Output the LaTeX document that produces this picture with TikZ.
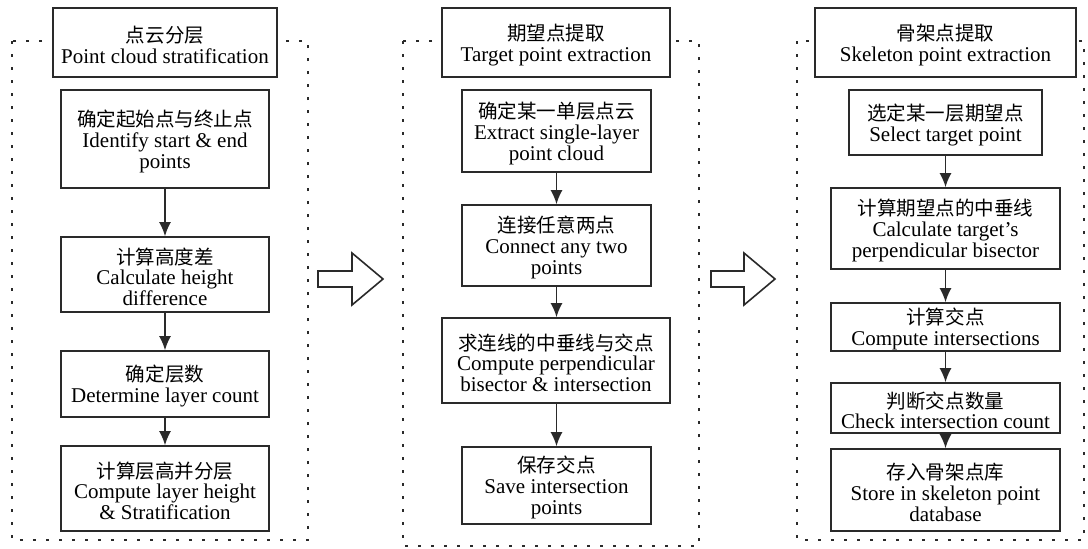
\documentclass[tikz,border=0pt]{standalone}
\usepackage{fontspec}
\setmainfont{Liberation Serif}
\newfontfamily\cjkfam{Noto Sans CJK SC}[Scale=0.93]
\newcommand\zh[1]{\rule{0pt}{21pt}{\cjkfam #1}}
\usetikzlibrary{arrows.meta}
\definecolor{ink}{HTML}{2A2A2A}
\tikzset{
  box/.style={draw=ink, line width=1.8pt, fill=white, align=center, inner sep=0pt,
    font=\fontsize{21}{20.8}\selectfont, text=black},
  conn/.style={draw=ink, line width=1.4pt, -{Latex[length=14pt,width=12pt]}},
  frame/.style={draw=ink, line width=2.8pt, dash pattern=on 2.8pt off 10.2pt},
  hollow/.style={draw=ink, line width=1.6pt, fill=white, line join=miter}
}
\begin{document}
\begin{tikzpicture}[x=1pt,y=-1pt]
\useasboundingbox[fill=white] (0,0) rectangle (1088,549);
% dotted frames
\draw[frame] (12,41) rectangle (308,540);
\draw[frame] (403,41) rectangle (699,546);
\draw[frame] (797,41) rectangle (1084,540);
% panel 1
\node[box, minimum width=224, minimum height=69] (t1) at (165,42.5) {\zh{点云分层}\\Point cloud stratification};
\node[box, minimum width=208, minimum height=98] (a1) at (165,139) {\zh{确定起始点与终止点}\\Identify start \& end\\points};
\node[box, minimum width=208, minimum height=75] (a2) at (165,274.5) {\zh{计算高度差}\\Calculate height\\difference};
\node[box, minimum width=208, minimum height=66] (a3) at (165,384) {\zh{确定层数}\\Determine layer count};
\node[box, minimum width=208, minimum height=85] (a4) at (165,488.5) {\zh{计算层高并分层}\\Compute layer height\\\& Stratification};
\draw[conn] (a1) -- (a2);
\draw[conn] (a2) -- (a3);
\draw[conn] (a3) -- (a4);
% panel 2
\node[box, minimum width=228, minimum height=69] (t2) at (556,42.5) {\zh{期望点提取}\\Target point extraction};
\node[box, minimum width=189, minimum height=82] (b1) at (556.5,131) {\zh{确定某一单层点云}\\Extract single-layer\\point cloud};
\node[box, minimum width=189, minimum height=81] (b2) at (556.5,245.5) {\zh{连接任意两点}\\Connect any two\\points};
\node[box, minimum width=228, minimum height=85] (b3) at (556,360.5) {\zh{求连线的中垂线与交点}\\Compute perpendicular\\bisector \& intersection};
\node[box, minimum width=189, minimum height=77] (b4) at (556.5,485.5) {\zh{保存交点}\\Save intersection\\points};
\draw[conn] (b1) -- (b2);
\draw[conn] (b2.south) -- (b3.north -| b2.south);
\draw[conn] (b3.south -| b4.north) -- (b4.north);
% panel 3
\node[box, minimum width=261, minimum height=69] (t3) at (945.5,42.5) {\zh{骨架点提取}\\Skeleton point extraction};
\node[box, minimum width=193, minimum height=65] (c1) at (945.5,122.5) {\zh{选定某一层期望点}\\Select target point};
\node[box, minimum width=229, minimum height=81] (c2) at (945.5,228.5) {\zh{计算期望点的中垂线}\\Calculate target’s\\perpendicular bisector};
\node[box, minimum width=229, minimum height=48] (c3) at (945.5,327) {\zh{计算交点}\\Compute intersections};
\node[box, minimum width=229, minimum height=50] (c4) at (945.5,408) {\zh{判断交点数量}\\Check intersection count};
\node[box, minimum width=229, minimum height=82] (c5) at (945.5,490) {\zh{存入骨架点库}\\Store in skeleton point\\database};
\draw[conn] (c1) -- (c2);
\draw[conn] (c2) -- (c3);
\draw[conn] (c3) -- (c4);
\draw[conn] (c4) -- (c5);
% hollow arrows between panels
\draw[hollow] (318,271) -- (352,271) -- (352,253) -- (383,279) -- (352,305) -- (352,287) -- (318,287) -- cycle;
\draw[hollow] (711,271) -- (744,271) -- (744,253) -- (775,279) -- (744,305) -- (744,287) -- (711,287) -- cycle;
\end{tikzpicture}
\end{document}
